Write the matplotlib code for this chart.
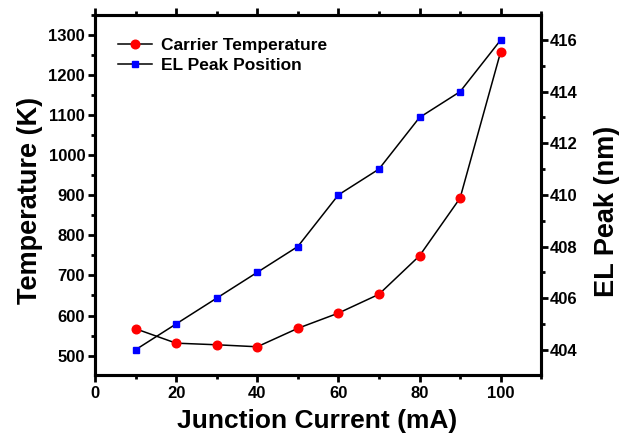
import matplotlib.pyplot as plt
from matplotlib.ticker import MultipleLocator
from matplotlib.lines import Line2D

plt.rcParams['font.family'] = ['Liberation Sans', 'DejaVu Sans']
plt.rcParams['font.weight'] = 'bold'

# ---- data ----
current = [10, 20, 30, 40, 50, 60, 70, 80, 90, 100]
carrier_temp = [567, 531, 527, 522, 568, 606, 653, 749, 893, 1258]
el_peak = [404, 405, 406, 407, 408, 410, 411, 413, 414, 416]

fig, ax = plt.subplots(figsize=(6.33, 4.42), dpi=100)
fig.subplots_adjust(left=0.150, right=0.855, top=0.966, bottom=0.152)
ax2 = ax.twinx()

ax.plot(current, carrier_temp, color='black', lw=1.1, marker='o', ms=6.2,
        mfc='red', mec='red', zorder=3)
ax2.plot(current, el_peak, color='black', lw=1.1, marker='s', ms=5,
         mfc='blue', mec='blue', zorder=3)

ax.set_xlim(0, 110)
ax.set_ylim(452, 1350)
ax2.set_ylim(403.03, 416.97)

ax.xaxis.set_major_locator(MultipleLocator(20))
ax.xaxis.set_minor_locator(MultipleLocator(10))
ax.yaxis.set_major_locator(MultipleLocator(100))
ax.yaxis.set_minor_locator(MultipleLocator(50))
ax2.yaxis.set_major_locator(MultipleLocator(2))
ax2.yaxis.set_minor_locator(MultipleLocator(1))

for a in (ax, ax2):
    for sp in a.spines.values():
        sp.set_linewidth(2.2)
ax.tick_params(which='major', direction='out', length=5, width=2, labelsize=12)
ax.tick_params(which='minor', direction='out', length=3, width=2)
ax.tick_params(axis='x', which='both', top=True, pad=3)
ax.tick_params(axis='y', which='major', pad=2)
ax2.tick_params(which='major', direction='out', length=5, width=2, labelsize=12, pad=1.5)
ax2.tick_params(which='minor', direction='out', length=3, width=2)

ax.set_xlabel('Junction Current (mA)', fontsize=19, fontweight='bold')
ax.set_ylabel('Temperature (K)', fontsize=19.5, fontweight='bold')
ax2.set_ylabel('EL Peak (nm)', fontsize=19.5, fontweight='bold')
ax.xaxis.set_label_coords(0.497, -0.095)
ax.yaxis.set_label_coords(-0.117, 0.486)
ax2.yaxis.set_label_coords(1.119, 0.453)

handles = [
    Line2D([], [], color='black', lw=1.1, marker='o', ms=6.2, mfc='red', mec='red'),
    Line2D([], [], color='black', lw=1.1, marker='s', ms=5, mfc='blue', mec='blue'),
]
ax.legend(handles, ['Carrier Temperature', 'EL Peak Position'], loc='upper left',
          frameon=False, prop={'size': 12.5, 'weight': 'bold'}, handlelength=1.96,
          handletextpad=0.52, borderpad=0, borderaxespad=0, labelspacing=0.26,
          bbox_to_anchor=(0.0516, 0.936))

fig.savefig('out.png', dpi=100)
